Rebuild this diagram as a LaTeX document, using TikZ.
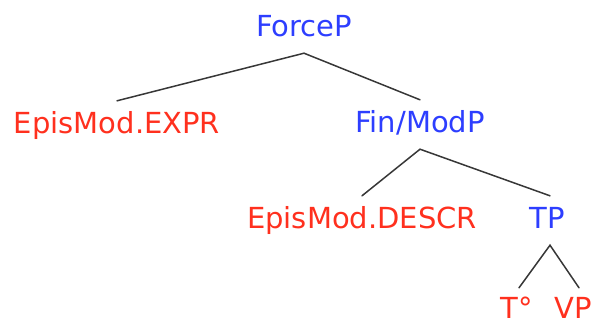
\documentclass[tikz,border=0pt]{standalone}
\usepackage{fontspec}
\setmainfont{DejaVu Sans}
\definecolor{catblue}{RGB}{45,62,255}
\definecolor{catred}{RGB}{255,48,30}
\definecolor{edgegray}{RGB}{55,55,55}
\begin{document}
\begin{tikzpicture}[x=1pt,y=-1pt,
  lab/.style={anchor=base,inner xsep=0pt,inner ysep=10pt,text height=22pt,text depth=7pt,font=\fontsize{29}{34}\selectfont},
  phr/.style={lab,text=catblue},
  term/.style={lab,text=catred},
  leaf/.style={term,inner ysep=0pt,text depth=0pt},
  edge/.style={draw=edgegray,line width=1.5pt,line cap=round}]
\useasboundingbox (0,0) rectangle (591,324);
\node[phr]  (force) at (304,36)  {ForceP};
\node[term] (expr)  at (117,133) {EpisMod.EXPR};
\node[phr]  (fin)   at (420,132) {Fin/ModP};
\node[term] (descr) at (362,228) {EpisMod.DESCR};
\node[phr]  (tp)    at (547,228) {TP};
\node[leaf] (t)     at (517,318) {T°};
\node[leaf] (vp)    at (573,318) {VP};
\draw[edge] (expr.north) -- (force.south) -- (fin.north);
\draw[edge] (descr.north) -- (fin.south) -- ([xshift=3pt]tp.north);
\draw[edge] ([xshift=2pt,yshift=8pt]t.north) -- ([xshift=3pt]tp.south) -- ([xshift=6pt,yshift=8pt]vp.north);
\end{tikzpicture}
\end{document}
